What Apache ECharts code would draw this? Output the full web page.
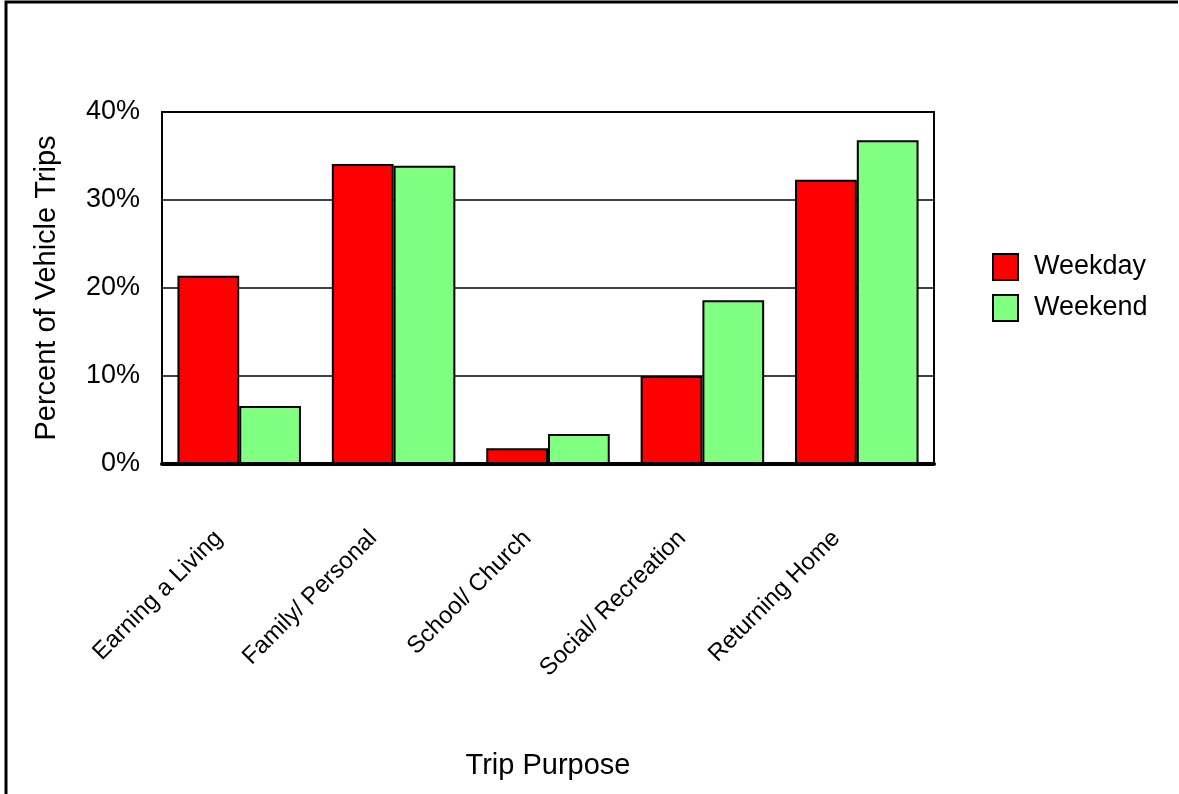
<!DOCTYPE html>
<html>
<head>
<meta charset="utf-8">
<script src="https://cdn.jsdelivr.net/npm/echarts@6/dist/echarts.min.js"></script>
<style>
html,body{margin:0;padding:0;background:#fff;}
#chart{width:1179px;height:794px;}
</style>
</head>
<body>
<div id="chart"></div>
<script>
const categories = ['Earning a Living', 'Family/ Personal', 'School/ Church', 'Social/ Recreation', 'Returning Home'];
const weekday = [21.4, 34.1, 1.8, 10.0, 32.3];
const weekend = [6.6, 33.9, 3.4, 18.6, 36.8];
const yTicks = [0, 10, 20, 30, 40];

const chart = echarts.init(document.getElementById('chart'), null, {renderer: 'canvas'});
const font = 'Liberation Sans, Arial, Helvetica, sans-serif';
const barStyle = (c) => ({color: c, borderColor: '#000', borderWidth: 2});

chart.setOption({
  backgroundColor: '#fff',
  animation: false,
  graphic: [{
    type: 'polyline',
    shape: {points: [[6, 800], [6, 2], [1178, 2]]},
    style: {stroke: '#000', lineWidth: 3, fill: null}
  }],
  grid: {
    left: 162, top: 112, right: 245, bottom: 330,
    show: true, borderColor: '#000', borderWidth: 2, backgroundColor: 'transparent'
  },
  legend: {
    orient: 'vertical',
    left: 992, top: 253,
    padding: 0,
    itemWidth: 25, itemHeight: 26, itemGap: 13,
    icon: 'rect',
    textStyle: {fontFamily: font, fontSize: 27, color: '#000', padding: [10, 0, 0, 11]},
    data: [
      {name: 'Weekday', itemStyle: {color: '#ff0000', borderColor: '#000', borderWidth: 2}},
      {name: 'Weekend', itemStyle: {color: '#80ff80', borderColor: '#000', borderWidth: 2}}
    ]
  },
  xAxis: {
    type: 'category',
    data: categories,
    name: 'Trip Purpose',
    nameLocation: 'middle',
    nameGap: 287,
    nameTextStyle: {fontFamily: font, fontSize: 29, color: '#000', verticalAlign: 'top'},
    axisLine: {show: true, lineStyle: {color: '#000', width: 4}},
    axisTick: {show: false},
    axisLabel: {
      rotate: 45, margin: 50, interval: 0,
      padding: [0, 29, 0, 0],
      fontFamily: font, fontSize: 24, color: '#000'
    }
  },
  yAxis: {
    type: 'value',
    min: yTicks[0], max: yTicks[yTicks.length - 1], interval: 10,
    name: 'Percent of Vehicle Trips',
    nameLocation: 'middle',
    nameGap: 101,
    nameTextStyle: {fontFamily: font, fontSize: 29, color: '#000'},
    axisLine: {show: true, lineStyle: {color: '#000', width: 2}},
    axisTick: {show: false},
    splitLine: {show: true, lineStyle: {color: '#000', width: 1.5}},
    axisLabel: {
      margin: 22, fontFamily: font, fontSize: 27, color: '#000',
      padding: [4, 0, 0, 0],
      formatter: '{value}%'
    }
  },
  series: [
    {name: 'Weekday', type: 'bar', data: weekday, barGap: '0%', barCategoryGap: '20%', itemStyle: barStyle('#ff0000')},
    {name: 'Weekend', type: 'bar', data: weekend, barGap: '0%', barCategoryGap: '20%', itemStyle: barStyle('#80ff80')}
  ]
});
</script>
</body>
</html>
